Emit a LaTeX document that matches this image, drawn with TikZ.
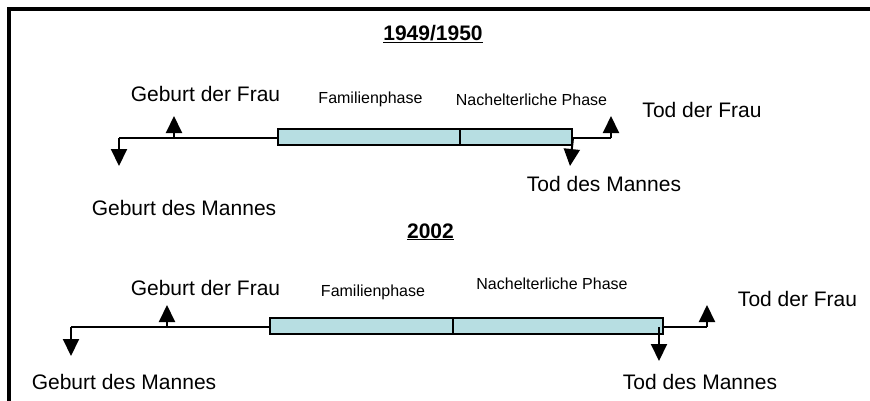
\documentclass[tikz,border=0pt]{standalone}
\usepackage{fontspec}
\setmainfont{Liberation Sans}
\usetikzlibrary{arrows.meta}
\definecolor{boxfill}{RGB}{183,222,226}
\begin{document}
\begin{tikzpicture}[x=1pt,y=-1pt,
 lbl/.style={anchor=base,inner sep=0pt,font=\fontsize{21}{24}\selectfont},
 sml/.style={anchor=base,inner sep=0pt,font=\fontsize{16}{19}\selectfont},
 ttl/.style={anchor=base,inner sep=0pt,font=\fontsize{21}{24}\selectfont\bfseries},
 phase/.style={draw,line width=2pt,fill=boxfill,inner sep=0pt,anchor=north west,minimum height=16pt},
 tl/.style={line width=2pt},
 arr/.style={line width=2pt,-{Triangle[width=16pt,length=17pt]}}]
\useasboundingbox (0,0) rectangle (870,400);
\clip (0,0) rectangle (870,400);
\draw[line width=4pt] (8.5,420) -- (8.5,8.5) -- (890,8.5);

% ---------- 1949/1950 ----------
\node[ttl] (t1) at (433,40) {\underline{1949/1950}};
\node[phase,minimum width=182pt] (f1) at (277,128) {};
\node[phase,minimum width=112pt] (n1) at (459,128) {};
\coordinate (gm1) at (119,138);
\coordinate (gm1t) at (119,166);
\coordinate (gf1) at (174,138);
\coordinate (gf1t) at (174,116);
\coordinate (tf1) at (611,138);
\coordinate (tf1t) at (611,116);
\coordinate (tm1t) at (570,166);
\draw[tl] (gm1) -- (f1.west |- gm1);
\draw[tl] (n1.east |- tf1) -- (tf1);
\draw[arr] (gm1) -- (gm1t);
\draw[arr] (gf1) -- (gf1t);
\draw[arr] (tf1) -- (tf1t);
\draw[arr] (n1.east |- gm1) -- (tm1t);
\node[lbl] (lgf1) at (205.5,101) {Geburt der Frau};
\node[sml] (lfp1) at (370.5,103) {Familienphase};
\node[sml] (lnp1) at (531.5,105) {Nachelterliche Phase};
\node[lbl] (ltf1) at (702,117) {Tod der Frau};
\node[lbl] (ltm1) at (604,191) {Tod des Mannes};
\node[lbl] (lgm1) at (184,215) {Geburt des Mannes};

% ---------- 2002 ----------
\node[ttl] (t2) at (430.5,238) {\underline{2002}};
\node[phase,minimum width=183pt] (f2) at (269,317) {};
\node[phase,minimum width=210pt] (n2) at (452,317) {};
\coordinate (gm2) at (71,327);
\coordinate (gm2t) at (71,356);
\coordinate (gf2) at (167,327);
\coordinate (gf2t) at (167,305);
\coordinate (tf2) at (707,327);
\coordinate (tf2t) at (707,305);
\coordinate (tm2) at (659,327);
\coordinate (tm2t) at (659,361);
\draw[tl] (gm2) -- (f2.west |- gm2);
\draw[tl] (n2.east |- tf2) -- (tf2);
\draw[arr] (gm2) -- (gm2t);
\draw[arr] (gf2) -- (gf2t);
\draw[arr] (tf2) -- (tf2t);
\draw[arr] (tm2) -- (tm2t);
\node[lbl] (lgf2) at (205.5,295) {Geburt der Frau};
\node[sml] (lfp2) at (373,296) {Familienphase};
\node[sml] (lnp2) at (552,289) {Nachelterliche Phase};
\node[lbl] (ltf2) at (797.5,306) {Tod der Frau};
\node[lbl] (lgm2) at (124,389) {Geburt des Mannes};
\node[lbl] (ltm2) at (700,389) {Tod des Mannes};
\end{tikzpicture}
\end{document}
